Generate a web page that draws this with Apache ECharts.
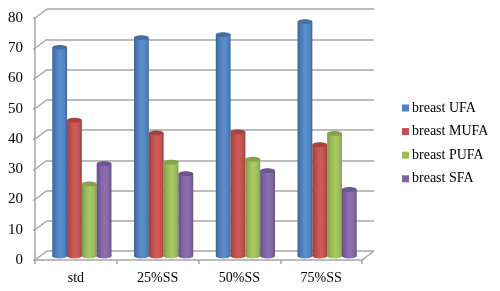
<!DOCTYPE html>
<html><head><meta charset="utf-8">
<style>html,body{margin:0;padding:0;background:#fff}#c{width:500px;height:291px}</style>
<script src="https://cdn.jsdelivr.net/npm/echarts@6/dist/echarts.min.js"></script>
</head><body><div id="c"></div>
<script>
var categories = ['std','25%SS','50%SS','75%SS'];
var yTicks = [0,10,20,30,40,50,60,70,80];
var breastUFA  = [69, 72.2, 73.2, 77.5];
var breastMUFA = [44.9, 40.7, 41, 36.8];
var breastPUFA = [23.8, 31, 32, 40.5];
var breastSFA  = [30.5, 27.2, 28.2, 22];
var seriesNames = ['breast UFA','breast MUFA','breast PUFA','breast SFA'];
var seriesValues = [breastUFA, breastMUFA, breastPUFA, breastSFA];
var baseColors = ['#4F81BD','#C0504D','#9BBB59','#8064A2'];
var darkColors = ['#3C6496','#9A403D','#7D9A47','#654F82'];
var lightColors = ['#5A8FCE','#D05C58','#A8CB62','#8D70B2'];
var capColors = ['#44709F','#A5443F','#86A34C','#6C5590'];

var serif = '"Liberation Serif","Times New Roman",serif';
var wall = '#A6A6A6';
var BAR_W = 14.8, DEPTH_X = 12, DEPTH_Y = 9, RY = 2.4;

function barItem(si){
  return function(params, api){
    var idx = api.value(0), val = api.value(1);
    var top = api.coord([idx, val]), base = api.coord([idx, 0]);
    var x = top[0] + (si - 2) * BAR_W;
    var cx = x + BAR_W / 2;
    var grad = {type:'linear',x:0,y:0,x2:1,y2:0,colorStops:[
      {offset:0,color:darkColors[si]},{offset:0.28,color:baseColors[si]},
      {offset:0.55,color:lightColors[si]},{offset:0.85,color:baseColors[si]},{offset:1,color:darkColors[si]}]};
    return {type:'group',children:[
      {type:'ellipse',shape:{cx:cx,cy:base[1],rx:BAR_W/2,ry:RY},style:{fill:grad}},
      {type:'rect',shape:{x:x,y:top[1],width:BAR_W,height:base[1]-top[1]},style:{fill:grad}},
      {type:'ellipse',shape:{cx:cx,cy:top[1],rx:BAR_W/2,ry:RY},style:{fill:capColors[si]}}
    ]};
  };
}

function diagItem(params, api){
  var tick = api.value(1);
  var p = api.coord([0, tick]);
  var left = p[0] - api.size([1,0])[0] / 2;
  return {type:'line',shape:{x1:left,y1:p[1],x2:left+DEPTH_X,y2:p[1]-DEPTH_Y},
    style:{stroke:wall,lineWidth:1.5}};
}
function cornerItem(params, api){
  var p = api.coord([categories.length-1, 0]);
  var right = p[0] + api.size([1,0])[0] / 2;
  return {type:'line',shape:{x1:right,y1:p[1],x2:right+DEPTH_X,y2:p[1]-DEPTH_Y},
    style:{stroke:wall,lineWidth:1.5}};
}

var hiddenY = {type:'value',min:0,max:80,interval:10,axisLabel:{show:false},axisLine:{show:false},axisTick:{show:false},splitLine:{show:false}};
var hiddenX = {type:'category',data:categories,axisLabel:{show:false},axisLine:{show:false},axisTick:{show:false},splitLine:{show:false}};

var series = [
  {type:'line',name:'back',xAxisIndex:1,yAxisIndex:1,data:[],silent:true},
  {type:'custom',name:'depth',xAxisIndex:0,yAxisIndex:0,renderItem:diagItem,z:1,silent:true,
    data:yTicks.map(function(t){return [0,t];}),encode:{x:0,y:1}},
  {type:'custom',name:'corner',xAxisIndex:0,yAxisIndex:0,renderItem:cornerItem,z:1,silent:true,
    data:[[categories.length-1,0]],encode:{x:0,y:1}}
];
seriesValues.forEach(function(vals, si){
  series.push({type:'custom',name:seriesNames[si],xAxisIndex:2,yAxisIndex:2,z:3+si,
    renderItem:barItem(si),itemStyle:{color:baseColors[si]},
    data:vals.map(function(v,i){return [i,v];}),encode:{x:0,y:1}});
});

var chart = echarts.init(document.getElementById('c'),null,{renderer:'canvas'});
chart.setOption({
  animation:false,
  backgroundColor:'#fff',
  textStyle:{fontFamily:serif},
  grid:[
    {left:35,top:18,width:327,height:242},
    {left:47,top:9,width:327,height:242},
    {left:41,top:14,width:327,height:242}
  ],
  xAxis:[
    {type:'category',gridIndex:0,data:categories,
      axisLine:{lineStyle:{color:wall,width:1.5}},
      axisTick:{show:true,alignWithLabel:false,length:4,lineStyle:{color:wall,width:1.5}},
      axisLabel:{color:'#000',fontSize:14,fontFamily:serif,margin:11}},
    Object.assign({gridIndex:1},hiddenX),
    Object.assign({gridIndex:2},hiddenX)
  ],
  yAxis:[
    {type:'value',gridIndex:0,min:0,max:80,interval:10,
      axisLine:{show:true,lineStyle:{color:wall,width:1.5}},
      axisTick:{show:true,length:2,lineStyle:{color:wall,width:1.5}},
      axisLabel:{color:'#000',fontSize:15,fontFamily:serif,margin:12},
      splitLine:{show:false}},
    Object.assign({gridIndex:1},hiddenY,{splitLine:{show:true,lineStyle:{color:wall,width:1.5}}}),
    Object.assign({gridIndex:2},hiddenY)
  ],
  legend:{
    orient:'vertical',left:397,top:95,itemWidth:7,itemHeight:7,itemGap:7.6,
    icon:'rect',data:seriesNames,selectedMode:false,
    textStyle:{color:'#000',fontSize:14,lineHeight:16,fontFamily:serif,padding:[0,0,0,-2]}
  },
  series:series
});
</script></body></html>
